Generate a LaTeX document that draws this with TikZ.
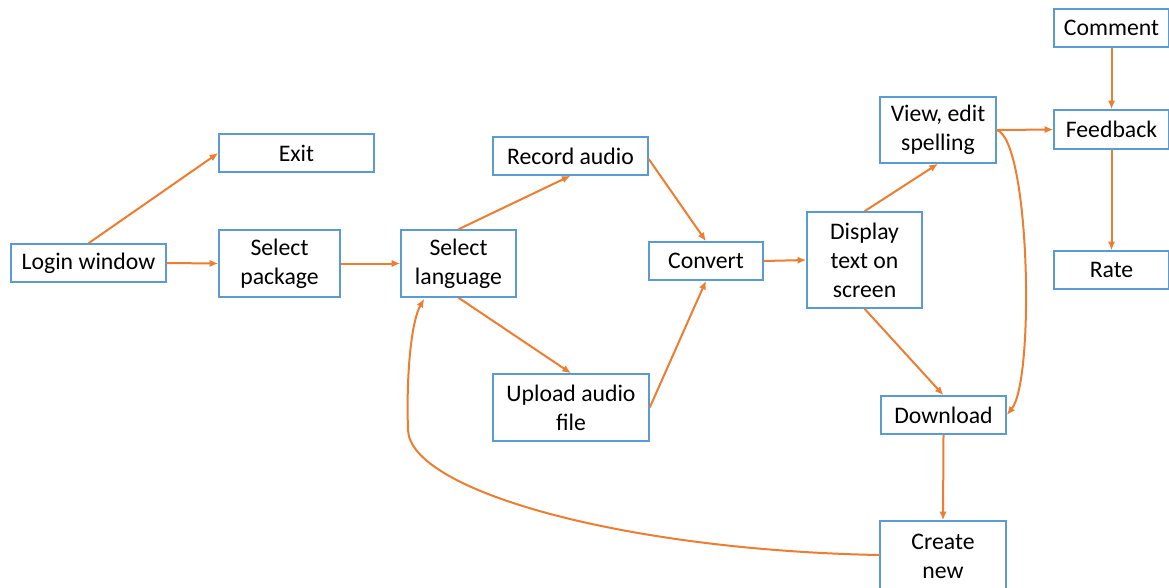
\documentclass[tikz,border=0pt]{standalone}
\usepackage{fontspec}
\setmainfont{Carlito}
\usetikzlibrary{arrows.meta,calc}
\definecolor{boxblue}{HTML}{5B9BD5}
\definecolor{arrorange}{HTML}{ED7D31}
\begin{document}
\begin{tikzpicture}[x=0.75pt,y=-0.75pt,
  box/.style={draw=boxblue,line width=1.1pt,rectangle,inner sep=0pt,align=center,
    font=\fontsize{17.8}{21.8}\selectfont},
  conn/.style={draw=arrorange,line width=1.5pt,-{Latex[length=6.5pt,width=5.5pt]}}]
\useasboundingbox (0,0) rectangle (1169,587);
\node[box,minimum width=155*0.75pt,minimum height=38*0.75pt] (exit) at (296.5,153) {Exit};
\node[box,minimum width=155*0.75pt,minimum height=38*0.75pt] (login) at (88.5,263) {Login window};
\node[box,minimum width=121*0.75pt,minimum height=67*0.75pt] (pkg) at (279.5,263.5) {Select\\package};
\node[box,minimum width=115*0.75pt,minimum height=67*0.75pt] (lang) at (458.5,263.5) {Select\\language};
\node[box,minimum width=155*0.75pt,minimum height=38*0.75pt] (rec) at (570.5,156) {Record audio};
\node[box,minimum width=156*0.75pt,minimum height=67*0.75pt] (up) at (571,407.5) {Upload audio\\file};
\node[box,minimum width=114*0.75pt,minimum height=38*0.75pt] (conv) at (706,261) {Convert};
\node[box,minimum width=115*0.75pt,minimum height=96*0.75pt] (disp) at (864.5,260) {Display\\text on\\screen};
\node[box,minimum width=116*0.75pt,minimum height=66*0.75pt] (view) at (938,130) {View, edit\\spelling};
\node[box,minimum width=115*0.75pt,minimum height=38*0.75pt] (comm) at (1111.5,28) {Comment};
\node[box,minimum width=115*0.75pt,minimum height=39*0.75pt] (feed) at (1111.5,129.5) {Feedback};
\node[box,minimum width=115*0.75pt,minimum height=38*0.75pt] (rate) at (1111.5,270) {Rate};
\node[box,minimum width=125*0.75pt,minimum height=38*0.75pt] (down) at (943.5,415) {Download};
\node[box,minimum width=126*0.75pt,minimum height=96*0.75pt] (new) at (943,569) {};
\node[font=\fontsize{17.8}{21.8}\selectfont,align=center,inner sep=0pt] (newtext) at (943,556) {Create\\new};
\draw[conn] (login.north) -- (exit.west);
\draw[conn] (login.east) -- (pkg.west);
\draw[conn] (pkg.east) -- (lang.west);
\draw[conn] (lang.north) -- (rec.south);
\draw[conn] (lang.south) -- (up.north);
\draw[conn] ([yshift=-3*0.75pt]rec.east) -- (conv.north);
\draw[conn] (up.east) -- (conv.south);
\draw[conn] (conv.east) -- (disp.west);
\draw[conn] (disp.north) -- (view.south);
\draw[conn] (view.east) -- (feed.west);
\draw[conn] (view.east) .. controls (1030,140) and (1035,380) .. (down.east);
\draw[conn] (disp.south) -- (down.north);
\draw[conn] (down.south) -- (new.north);
\draw[conn] (comm.south) -- (feed.north);
\draw[conn] (feed.south) -- (rate.north);
\coordinate (langin) at ($(lang.south west)+(24,1)$);
\draw[conn] (new.west |- 0,555) .. controls (620,550) and (410,490) .. (408,430)
  .. controls (406,370) and (412,320) .. (langin);
\end{tikzpicture}
\end{document}
